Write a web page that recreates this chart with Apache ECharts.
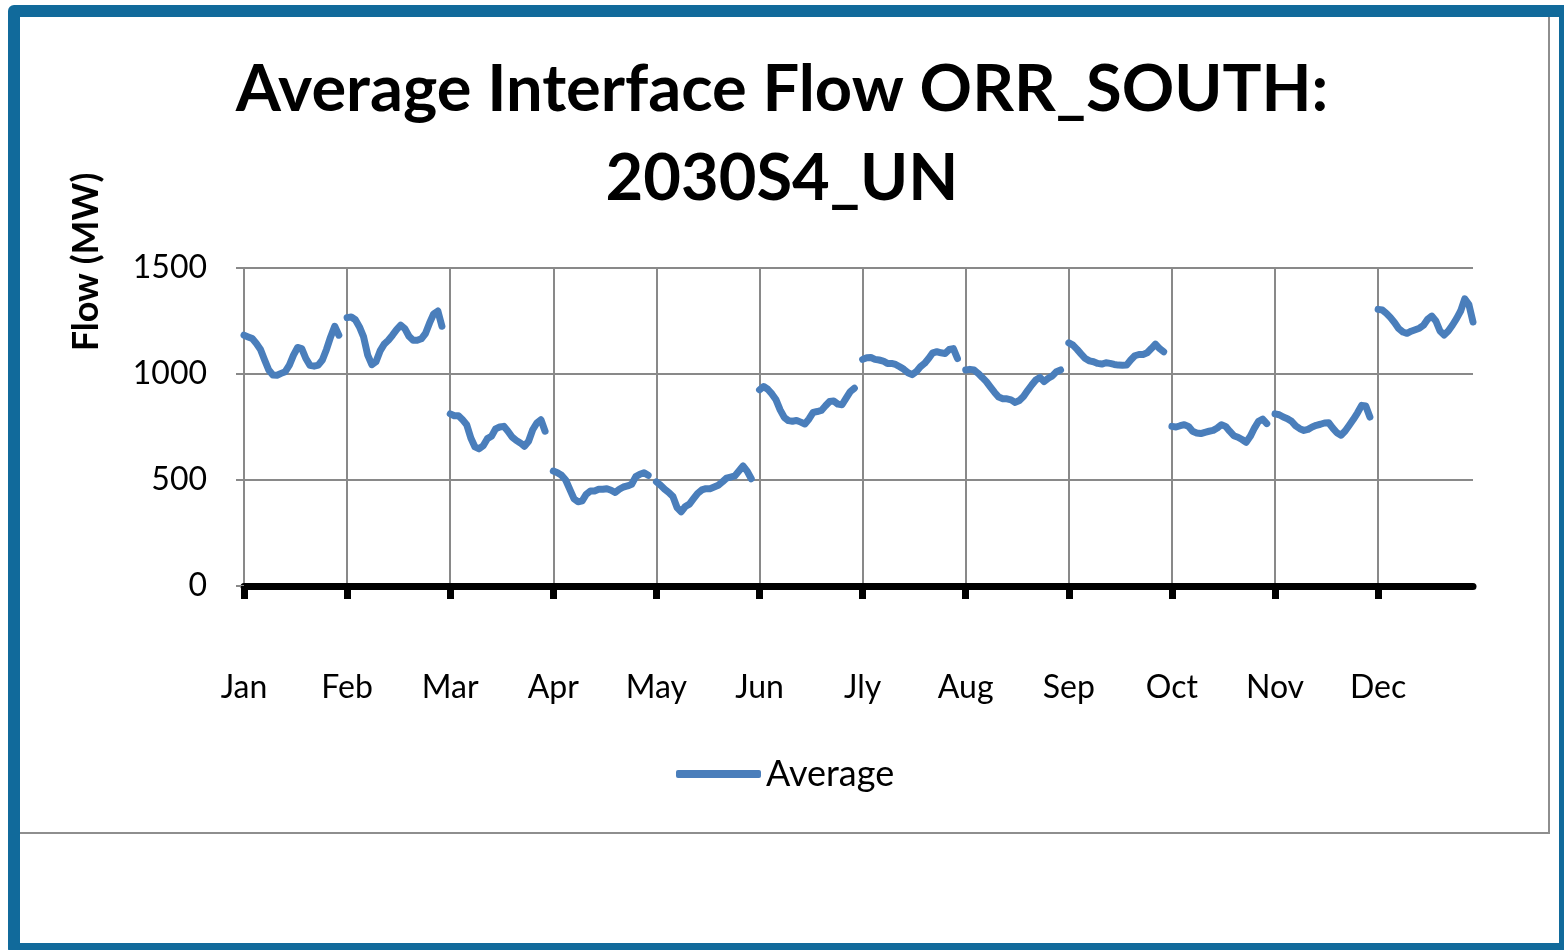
<!DOCTYPE html>
<html>
<head>
<meta charset="utf-8">
<script src="https://cdn.jsdelivr.net/npm/echarts@6/dist/echarts.min.js"></script>
<style>
  html, body { margin: 0; padding: 0; background: #fff; }
  #chart { position: absolute; left: 0; top: 0; width: 1564px; height: 950px; }
  #outer { position: absolute; left: 8px; top: 5px; width: 1539px; height: 926px;
           border: 12px solid #116a9b; border-radius: 6px; pointer-events: none; }
  #inner { position: absolute; left: 20px; top: 17px; width: 1528px; height: 815px;
           border-right: 2px solid #8e8e8e; border-bottom: 2px solid #8e8e8e; pointer-events: none; }
</style>
</head>
<body>
<div id="chart"></div>
<div id="inner"></div>
<div id="outer"></div>
<script>
// month labels on the x axis
var months = ['Jan', 'Feb', 'Mar', 'Apr', 'May', 'Jun', 'Jly', 'Aug', 'Sep', 'Oct', 'Nov', 'Dec'];

// average flow (MW), 24 points per month
var jan = [1183, 1175, 1167, 1144, 1116, 1066, 1019, 995, 994, 1003, 1011, 1042, 1089, 1125, 1120, 1073, 1041, 1037, 1042, 1066, 1116, 1175, 1225, 1183];
var feb = [1266, 1269, 1256, 1222, 1175, 1089, 1044, 1058, 1109, 1141, 1159, 1183, 1209, 1230, 1214, 1178, 1159, 1159, 1166, 1191, 1241, 1284, 1297, 1225];
var mar = [812, 803, 803, 784, 761, 698, 656, 647, 662, 695, 706, 741, 750, 753, 730, 703, 687, 675, 659, 683, 737, 769, 784, 730];
var apr = [542, 534, 522, 500, 456, 412, 397, 402, 433, 448, 448, 456, 456, 459, 452, 441, 456, 467, 472, 480, 516, 527, 534, 522];
var may = [491, 475, 456, 441, 422, 370, 350, 375, 386, 412, 437, 453, 459, 459, 467, 475, 491, 509, 514, 519, 542, 566, 542, 506];
var jun = [925, 941, 928, 906, 878, 831, 795, 780, 777, 781, 773, 764, 788, 819, 823, 828, 850, 870, 873, 858, 855, 886, 917, 933];
var jly = [1069, 1077, 1078, 1069, 1066, 1061, 1050, 1050, 1045, 1034, 1022, 1006, 997, 1011, 1034, 1050, 1073, 1100, 1105, 1100, 1097, 1116, 1120, 1073];
var aug = [1019, 1022, 1019, 1003, 984, 964, 938, 913, 891, 883, 883, 878, 866, 875, 894, 922, 948, 972, 984, 964, 980, 991, 1011, 1019];
var sep = [1147, 1136, 1116, 1094, 1073, 1062, 1058, 1050, 1047, 1053, 1050, 1045, 1042, 1041, 1042, 1066, 1086, 1092, 1092, 1100, 1120, 1141, 1120, 1105];
var oct = [753, 750, 756, 761, 753, 730, 722, 719, 725, 730, 734, 745, 761, 753, 730, 709, 702, 691, 678, 706, 745, 777, 787, 766];
var nov = [812, 808, 797, 789, 777, 755, 742, 734, 739, 750, 758, 763, 769, 770, 745, 723, 711, 731, 758, 786, 817, 852, 849, 797];
var dec = [1305, 1302, 1286, 1266, 1242, 1214, 1198, 1192, 1202, 1209, 1216, 1230, 1258, 1273, 1250, 1203, 1184, 1203, 1230, 1261, 1297, 1355, 1328, 1245];

var monthly = [jan, feb, mar, apr, may, jun, jly, aug, sep, oct, nov, dec];
var perMonth = 25; // 24 points + one empty slot so months are not joined

// flatten, with a gap between months
var slots = [];
var values = [];
monthly.forEach(function (m, k) {
  m.forEach(function (v) { slots.push(String(slots.length)); values.push(v); });
  if (k < monthly.length - 1) { slots.push(String(slots.length)); values.push('-'); }
});

function isMonthStart(index) { return index % perMonth === 0; }

var font = 'Lato';
var myChart = echarts.init(document.getElementById('chart'));
var option = {
  animation: false,
  title: {
    text: 'Average Interface Flow ORR_SOUTH:\n2030S4_UN',
    left: 'center',
    top: 41,
    textStyle: { fontFamily: font, fontSize: 65, fontWeight: 'bold', color: '#000', lineHeight: 89 }
  },
  grid: { left: 244, right: 91, top: 268, bottom: 364, outerBoundsMode: 'none' },
  legend: {
    data: ['Average'],
    left: 676,
    top: 756,
    padding: 0,
    icon: 'roundRect',
    itemWidth: 85,
    itemHeight: 8,
    textStyle: { fontFamily: font, fontSize: 36, color: '#000' }
  },
  xAxis: {
    type: 'category',
    data: slots,
    boundaryGap: false,
    axisLine: { lineStyle: { color: '#000', width: 7 } },
    axisTick: { show: true, interval: isMonthStart, length: 13, lineStyle: { color: '#000', width: 7 } },
    axisLabel: {
      interval: isMonthStart,
      margin: 86,
      fontFamily: font,
      fontSize: 32,
      color: '#000',
      formatter: function (value, index) { return months[Math.floor(index / perMonth)]; }
    },
    splitLine: { show: true, interval: isMonthStart, lineStyle: { color: '#898989', width: 2 } }
  },
  yAxis: {
    type: 'value',
    min: 0,
    max: 1500,
    interval: 500,
    axisLine: { show: true, lineStyle: { color: '#898989', width: 2 } },
    axisTick: { show: true, length: 8, lineStyle: { color: '#898989', width: 2 } },
    axisLabel: {
      margin: 37, fontFamily: font, fontSize: 32, color: '#000',
      formatter: function (v) { return String(v); }
    },
    splitLine: { lineStyle: { color: '#898989', width: 2 } }
  },
  graphic: [{
    type: 'text',
    x: 86,
    y: 262,
    rotation: Math.PI / 2,
    style: {
      text: 'Flow (MW)',
      fontFamily: font,
      fontSize: 36,
      fontWeight: 'bold',
      fill: '#000',
      textAlign: 'center',
      textVerticalAlign: 'middle'
    }
  }],
  series: [{
    name: 'Average',
    type: 'line',
    data: values,
    symbol: 'none',
    connectNulls: false,
    itemStyle: { color: '#4a7ebb' },
    lineStyle: { color: '#4a7ebb', width: 7, cap: 'round', join: 'round' },
    z: 5
  }]
};
myChart.setOption(option);
</script>
</body>
</html>
